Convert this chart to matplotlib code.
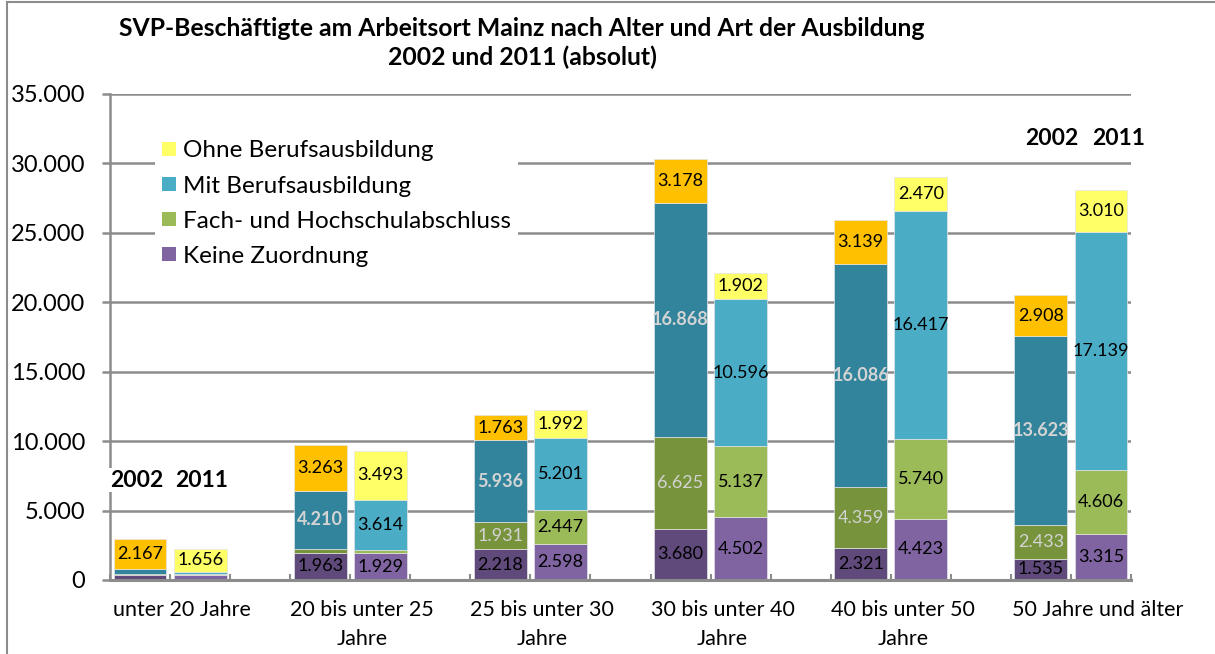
import numpy as np
import matplotlib.pyplot as plt
from matplotlib.patches import Patch, Rectangle
from matplotlib.transforms import blended_transform_factory

plt.rcParams['font.family'] = ['Lato', 'DejaVu Sans']

# Altersgruppen
groups = ['unter 20 Jahre', '20 bis unter 25\nJahre', '25 bis unter 30\nJahre',
          '30 bis unter 40\nJahre', '40 bis unter 50\nJahre', '50 Jahre und älter']
series = ['Keine Zuordnung', 'Fach- und Hochschulabschluss',
          'Mit Berufsausbildung', 'Ohne Berufsausbildung']

# 2002
keine_2002 = [360, 1963, 2218, 3680, 2321, 1535]
fach_2002 = [70, 270, 1931, 6625, 4359, 2433]
mit_2002 = [340, 4210, 5936, 16868, 16086, 13623]
ohne_2002 = [2167, 3263, 1763, 3178, 3139, 2908]

# 2011
keine_2011 = [360, 1929, 2598, 4502, 4423, 3315]
fach_2011 = [50, 250, 2447, 5137, 5740, 4606]
mit_2011 = [170, 3614, 5201, 10596, 16417, 17139]
ohne_2011 = [1656, 3493, 1992, 1902, 2470, 3010]

yticks = [0, 5000, 10000, 15000, 20000, 25000, 30000, 35000]

col_2002 = ['#604a7b', '#77933c', '#31849b', '#ffc000']
col_2011 = ['#8064a2', '#9bbb59', '#4bacc6', '#ffff66']
txt_2002 = ['black', '#d4d4d4', '#d4d4d4', 'black']
bold_2002 = ['normal', 'normal', 'bold', 'normal']
grid_col = '#8c8c8c'


def fmt(v):
    return f'{v:,}'.replace(',', '.')


fig = plt.figure(figsize=(12.15, 6.54), dpi=100)
ax = fig.add_axes([110 / 1215, 74 / 654, 1021 / 1215, 486 / 654])

data_2002 = [keine_2002, fach_2002, mit_2002, ohne_2002]
data_2011 = [keine_2011, fach_2011, mit_2011, ohne_2011]

x02 = np.arange(len(groups)) * 3 + 0.5
x11 = x02 + 1
w = 0.88

for xs, data, cols, tcols, weights in [
        (x02, data_2002, col_2002, txt_2002, bold_2002),
        (x11, data_2011, col_2011, ['black'] * 4, ['normal'] * 4)]:
    bottom = np.zeros(len(groups))
    for vals, c, tc, fw in zip(data, cols, tcols, weights):
        vals = np.array(vals)
        ax.bar(xs, vals, w, bottom=bottom, color=c, edgecolor='#e4e4e4',
               linewidth=0.5, zorder=2)
        for xi, b, v in zip(xs, bottom, vals):
            if v >= 1000:
                ax.text(xi, b + v / 2, fmt(v), ha='center', va='center',
                        fontsize=13, color=tc, fontweight=fw, zorder=3)
        bottom = bottom + vals

ax.set_xlim(0, 17)
ax.set_ylim(0, 35000)
ax.set_yticks(yticks)
ax.set_yticklabels([fmt(v) for v in yticks], fontsize=17)
ax.set_xticks(np.arange(0, 18))
ax.set_xticklabels([])
ax.tick_params(axis='x', direction='in', length=4, width=1.5, color=grid_col)
ax.tick_params(axis='y', direction='out', length=6, width=1.8, color=grid_col,
               pad=12)
ax.yaxis.grid(True, color=grid_col, linewidth=1.8)
ax.set_axisbelow(True)
for s in ['top', 'right']:
    ax.spines[s].set_visible(False)
ax.spines['left'].set_color(grid_col)
ax.spines['left'].set_linewidth(1.8)
ax.spines['bottom'].set_color(grid_col)
ax.spines['bottom'].set_linewidth(2.2)

# Gruppenbeschriftungen
label_x = [1.2, 4.2, 7.2, 10.2, 13.2, 16.45]
trans = blended_transform_factory(ax.transData, fig.transFigure)
for lx, g in zip(label_x, groups):
    ax.text(lx, 1 - 600 / 654, g, transform=trans, ha='center', va='top',
            fontsize=15.5, linespacing=1.55, clip_on=False)

# Jahresangaben
for xs, yv in [((0.45, 1.52), 7200), ((15.68, 16.8), 31830)]:
    for xi, yr in zip(xs, ['2002', '2011']):
        ax.text(xi, yv, yr, ha='center', va='center', fontsize=16.5,
                fontweight='bold', zorder=4,
                bbox=dict(facecolor='white', edgecolor='none', pad=1))

handles = [Patch(facecolor=c, edgecolor='none') for c in col_2011[::-1]]
leg = ax.legend(handles, series[::-1], loc='upper left',
                bbox_to_anchor=(143 / 1215, 1 - 121 / 654),
                bbox_transform=fig.transFigure, fontsize=17.5, frameon=True,
                fancybox=False, edgecolor='none', facecolor='white',
                framealpha=1, handlelength=0.55, handleheight=0.55,
                handletextpad=0.3, labelspacing=0.58, borderpad=0.3)

fig.text(522 / 1215, 1 - 43 / 654,
         'SVP-Beschäftigte am Arbeitsort Mainz nach Alter und Art der Ausbildung\n'
         '2002 und 2011 (absolut)', ha='center', va='center', fontsize=17.8,
         fontweight='bold', linespacing=1.25)

fig.add_artist(Rectangle((7 / 1215, -0.1), 1.2, 1.1 - 2 / 654, fill=False,
                         edgecolor=grid_col, linewidth=1.5,
                         transform=fig.transFigure))

fig.savefig('out.png', dpi=100)
